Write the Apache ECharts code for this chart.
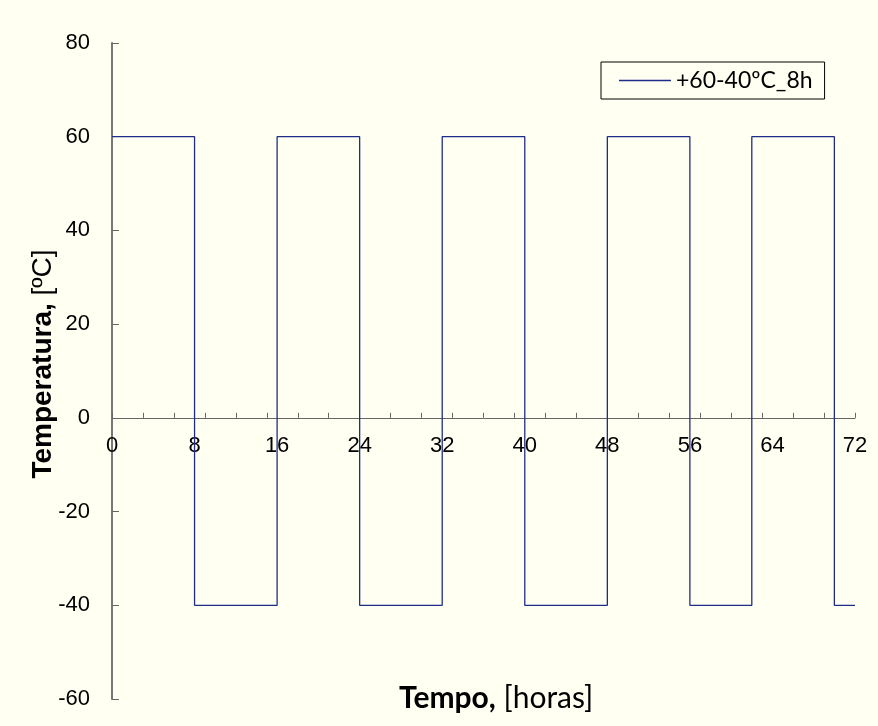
<!DOCTYPE html>
<html>
<head>
<meta charset="utf-8">
<script src="https://cdn.jsdelivr.net/npm/echarts@6/dist/echarts.min.js"></script>
<style>
html,body{margin:0;padding:0;background:#fffff2;}
#c{width:878px;height:726px;}
</style>
</head>
<body>
<div id="c"></div>
<script>
// Data
const seriesName = '+60-40ºC_8h';
const hours = [0, 8, 16, 24, 32, 40, 48, 56, 62, 70, 72];
const temps = [60, -40, 60, -40, 60, -40, 60, -40, 60, -40, -40];
const xMin = 0, xMax = 72, xLabelStep = 8, xTickStep = 3;
const yMin = -60, yMax = 80, yStep = 20;
const xName = 'Tempo,';
const xUnit = ' [horas]';
const yName = 'Temperatura,';
const yUnit = ' [ºC]';

const data = hours.map((h, i) => [h, temps[i]]);
const W = 878, H = 726;
const gridTop = 43, gridBottom = 27, gridLeft = 112, gridRight = 23;
const gridH = H - gridTop - gridBottom;
// place the x axis where y = 0 lies on the y scale
const zeroOffset = -((0 - yMin) / (yMax - yMin)) * gridH;

const chart = echarts.init(document.getElementById('c'), null, {renderer: 'canvas'});
const axisFont = 'Liberation Sans';
const lineColor = '#1f2d8a';
chart.setOption({
  backgroundColor: '#fffff2',
  animation: false,
  title: {
    text: '{b|' + xName + '}{n|' + xUnit + '}',
    left: 399,
    top: 683,
    padding: 0,
    textStyle: {
      fontWeight: 'normal',
      rich: {
        b: {fontFamily: 'Lato', fontWeight: 'bold', fontSize: 30, color: '#000'},
        n: {fontFamily: 'Lato', fontWeight: 'normal', fontSize: 30, color: '#000'}
      }
    }
  },
  legend: {
    left: 601,
    top: 62,
    orient: 'vertical',
    borderColor: '#000',
    borderWidth: 1,
    padding: [7, 12, 7, 18],
    itemWidth: 52,
    itemHeight: 1.3,
    backgroundColor: '#fffff2',
    textStyle: {fontFamily: 'Lato', fontSize: 23, color: '#000'},
    data: [{name: seriesName, icon: 'rect'}]
  },
  grid: {left: gridLeft, right: gridRight, top: gridTop, bottom: gridBottom, containLabel: false},
  xAxis: [{
    type: 'value', min: xMin, max: xMax, interval: xLabelStep, position: 'bottom',
    offset: zeroOffset,
    axisLine: {show: true, onZero: false, lineStyle: {color: '#666', width: 1}},
    axisTick: {show: false},
    splitLine: {show: false},
    axisLabel: {fontFamily: axisFont, fontSize: 22, color: '#000', margin: 17}
  }, {
    type: 'value', min: xMin, max: xMax, interval: xTickStep, position: 'bottom',
    offset: zeroOffset,
    axisLine: {show: false, onZero: false},
    axisTick: {show: true, inside: true, length: 5, lineStyle: {color: '#666', width: 1}},
    splitLine: {show: false},
    axisLabel: {show: false}
  }],
  yAxis: {
    type: 'value', min: yMin, max: yMax, interval: yStep,
    name: '{b|' + yName + '}{n|' + yUnit + '}',
    nameLocation: 'middle', nameRotate: 90, nameGap: 55,
    nameMoveOverlap: false,
    nameTextStyle: {
      padding: [0, 0, 0, 14],
      rich: {
        b: {fontFamily: axisFont, fontWeight: 'bold', fontSize: 28, color: '#000'},
        n: {fontFamily: axisFont, fontWeight: 'normal', fontSize: 28, color: '#000'}
      }
    },
    axisLine: {show: true, onZero: false, lineStyle: {color: '#777', width: 2}},
    axisTick: {show: true, inside: true, length: 7, lineStyle: {color: '#666', width: 1}},
    splitLine: {show: false},
    axisLabel: {fontFamily: axisFont, fontSize: 22, color: '#000', margin: 22}
  },
  series: [{
    name: seriesName,
    type: 'line',
    xAxisIndex: 0,
    step: 'end',
    symbol: 'none',
    data: data,
    lineStyle: {color: lineColor, width: 1.3},
    itemStyle: {color: lineColor},
    z: 5
  }]
});
</script>
</body>
</html>
